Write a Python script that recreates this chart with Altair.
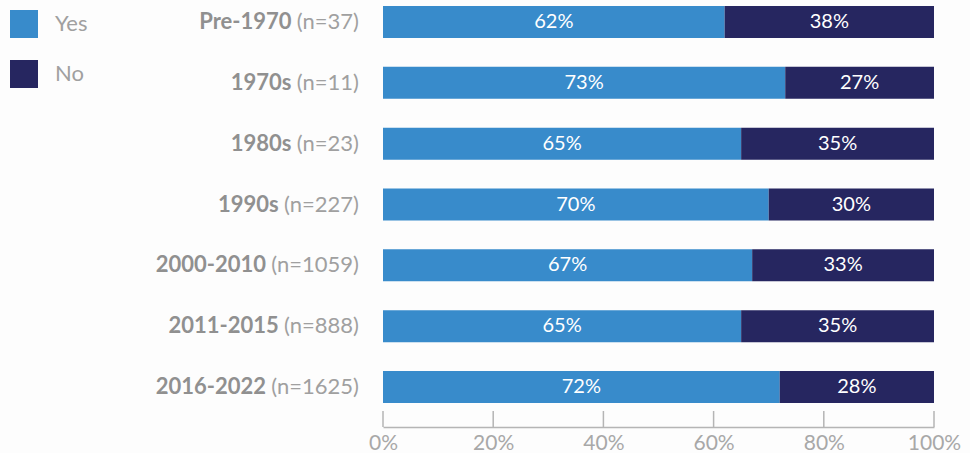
import altair as alt
import pandas as pd

periods = ["Pre-1970", "1970s", "1980s", "1990s", "2000-2010", "2011-2015", "2016-2022"]
n_counts = [37, 11, 23, 227, 1059, 888, 1625]
yes_pct = [62, 73, 65, 70, 67, 65, 72]
no_pct = [38, 27, 35, 30, 33, 35, 28]
answers = ["Yes", "No"]
colors = ["#388bcb", "#262660"]
ticks = [0, 20, 40, 60, 80, 100]

FONT = "Lato"

rows = []
for p, y, n in zip(periods, yes_pct, no_pct):
    rows.append({"period": p, "answer": "Yes", "ord": 0, "value": y})
    rows.append({"period": p, "answer": "No", "ord": 1, "value": n})
bars_df = pd.DataFrame(rows)

labels_df = pd.DataFrame({
    "period": periods,
    "nlabel": [f"(n={n})" for n in n_counts],
})
ticks_df = pd.DataFrame({"t": ticks})

yscale = alt.Scale(domain=periods, range=[6, 403], paddingInner=0.474, paddingOuter=0)
xscale = alt.Scale(domain=[0, 100])
xaxis = alt.Axis(values=ticks, labelExpr="datum.value + '%'",
                 title=None, grid=False, ticks=False, domain=True,
                 domainColor="#b5b5b5", domainWidth=1.5,
                 labelColor="#a8a8a8", labelFont=FONT, labelFontSize=21,
                 labelPadding=5, labelFlush=False, labelOverlap=False)

bars = alt.Chart(bars_df).mark_bar().encode(
    x=alt.X("value:Q", stack="zero", scale=xscale, axis=xaxis),
    y=alt.Y("period:N", scale=yscale, axis=None, sort=periods),
    color=alt.Color("answer:N", scale=alt.Scale(domain=answers, range=colors),
                    legend=alt.Legend(title=None, orient="none", legendX=-373, legendY=10,
                                      symbolType="square", symbolSize=784,
                                      symbolStrokeWidth=0, symbolOpacity=1,
                                      labelFont=FONT, labelFontSize=22,
                                      labelColor="#a0a0a0", labelOffset=17,
                                      rowPadding=22, padding=0)),
    order=alt.Order("ord:Q"),
)

bar_text = alt.Chart(bars_df).transform_window(
    cum="sum(value)", groupby=["period"], sort=[alt.SortField("ord")]
).transform_calculate(
    mid="datum.cum - datum.value / 2",
    txt="datum.value + '%'",
).mark_text(color="white", font=FONT, fontSize=20, align="center", baseline="middle").encode(
    x=alt.X("mid:Q", scale=xscale, axis=xaxis),
    y=alt.Y("period:N", scale=yscale, axis=None, sort=periods),
    text="txt:N",
)

tick_rules = alt.Chart(ticks_df).mark_rule(color="#b5b5b5", strokeWidth=1.5).encode(
    x=alt.X("t:Q", scale=xscale, axis=xaxis),
    y=alt.value(411),
    y2=alt.value(427),
)

main = alt.layer(bars, bar_text, tick_rules)

# labels: regular "(n=..)" right aligned, bold period right aligned before it
lab_scale = alt.Scale(domain=[0, 383], range=[-383, 0])
labels_base = alt.Chart(labels_df).transform_calculate(
    ndig="length(datum.nlabel) - 4",
    nwidth="22 * (0.27 * 2 + 0.56 + 0.58 + 0.58 * datum.ndig)",
    xn="359",
    xb="359 - datum.nwidth - 5",
)
n_text = labels_base.mark_text(font=FONT, fontSize=22, color="#a0a0a0", align="right",
                               baseline="middle").encode(
    x=alt.X("xn:Q", scale=lab_scale, axis=None),
    y=alt.Y("period:N", scale=yscale, axis=None, sort=periods),
    text="nlabel:N",
)
p_text = labels_base.mark_text(font=FONT, fontSize=22, fontWeight="bold", color="#909090",
                               align="right", baseline="middle").encode(
    x=alt.X("xb:Q", scale=lab_scale, axis=None),
    y=alt.Y("period:N", scale=yscale, axis=None, sort=periods),
    text="period:N",
)
labels = alt.layer(n_text, p_text)

chart = alt.layer(main, labels).resolve_scale(x="independent").properties(
    width=551, height=427,
    autosize=alt.AutoSizeParams(type="none"),
    padding={"left": 383, "top": 0, "right": 36, "bottom": 26},
    background="#fdfdfd",
).configure_view(stroke=None)

chart.save("out.html", embed_options={"renderer": "svg", "actions": False})
